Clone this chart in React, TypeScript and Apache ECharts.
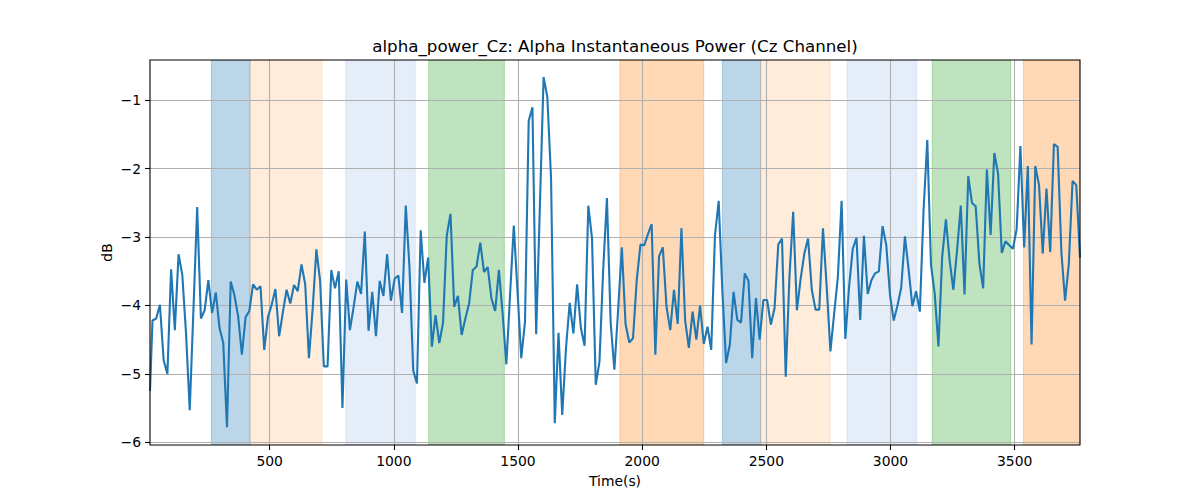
import React, { useEffect, useRef } from "react";
import * as echarts from "echarts";

// Alpha power (dB) per time window; first entry is the left-edge point
const values: number[] = [
  -5.25,
  -4.22, -4.19, -3.99, -4.80, -5.00, -3.47, -4.36, -3.25, -3.55, -4.40,
  -5.53, -4.05, -2.56, -4.19, -4.07, -3.63, -4.11, -3.81, -4.33, -4.55,
  -5.78, -3.65, -3.85, -4.16, -4.72, -4.17, -4.08, -3.69, -3.77, -3.72,
  -4.65, -4.17, -3.99, -3.76, -4.45, -4.10, -3.77, -3.97, -3.70, -3.79,
  -3.40, -3.69, -4.77, -4.05, -3.18, -3.64, -4.89, -4.89, -3.48, -3.75,
  -3.50, -5.50, -3.62, -4.36, -4.02, -3.65, -3.83, -2.92, -4.37, -3.80,
  -4.45, -3.64, -3.86, -3.25, -3.93, -3.61, -3.56, -4.11, -2.54, -3.45,
  -4.95, -5.14, -2.90, -3.67, -3.30, -4.60, -4.14, -4.55, -4.25, -2.98,
  -2.66, -4.02, -3.86, -4.43, -4.19, -3.97, -3.48, -3.43, -3.08, -3.51,
  -3.44, -3.90, -4.08, -3.48, -4.12, -4.86, -3.84, -2.83, -3.80, -4.77,
  -4.24, -1.30, -1.10, -4.42, -2.55, -0.66, -0.95, -2.14, -5.72, -4.40,
  -5.60, -4.63, -3.96, -4.41, -3.69, -4.33, -4.59, -2.54, -3.02, -5.16,
  -4.82, -3.47, -2.43, -4.25, -4.94, -4.07, -3.15, -4.27, -4.54, -4.48,
  -3.63, -3.11, -3.12, -2.96, -2.81, -4.72, -3.28, -3.15, -4.02, -4.36,
  -3.77, -4.27, -2.87, -4.22, -4.62, -4.09, -4.50, -4.00, -4.56, -4.31,
  -4.65, -2.98, -2.47, -3.80, -4.84, -4.57, -3.80, -4.21, -4.25, -3.53,
  -3.64, -4.77, -3.89, -4.50, -3.92, -3.92, -4.28, -4.04, -3.11, -3.02,
  -5.04, -3.58, -2.63, -4.07, -3.61, -3.24, -3.02, -3.77, -4.06, -4.06,
  -2.87, -3.73, -4.67, -4.12, -3.58, -2.47, -4.49, -3.73, -3.17, -3.01,
  -4.21, -2.98, -3.83, -3.63, -3.53, -3.50, -2.84, -3.12, -3.85, -4.22,
  -4.00, -3.74, -2.99, -3.48, -4.01, -3.79, -4.09, -2.61, -1.58, -3.41,
  -3.83, -4.60, -3.29, -2.74, -3.34, -3.77, -3.19, -2.54, -3.84, -2.11,
  -2.50, -2.55, -3.39, -3.75, -2.01, -2.97, -1.77, -2.07, -3.23, -3.06,
  -3.12, -3.17, -2.88, -1.67, -3.15, -1.96, -4.57, -1.96, -2.24, -3.24,
  -2.29, -3.22, -1.64, -1.68, -3.22, -3.93, -3.39, -2.18, -2.24, -3.30,
];

const FIRST_TIME = 18;
const T0 = 28;
const STEP = 15;
const times: number[] = values.map((_, i) => (i === 0 ? FIRST_TIME : T0 + STEP * (i - 1)));

const X_MIN = 18;
const X_MAX = 3763;
const Y_MIN = -6.04;
const Y_MAX = -0.41;

const xTicks = [500, 1000, 1500, 2000, 2500, 3000, 3500];
const yTicks = [-6, -5, -4, -3, -2, -1];

// Shaded task segments
const bandStarts = [265, 421, 806, 1140, 1910, 2323, 2477, 2825, 3168, 3535];
const bandEnds = [421, 711, 1086, 1445, 2248, 2477, 2756, 3106, 3484, 3763];
const bandKinds = [0, 1, 2, 3, 4, 0, 1, 2, 3, 4];

const bandPalette = [
  "rgba(31,119,180,0.3)",
  "rgba(255,127,14,0.15)",
  "rgba(70,130,210,0.14)",
  "rgba(44,160,44,0.3)",
  "rgba(255,127,14,0.3)",
];

const TITLE = "alpha_power_Cz: Alpha Instantaneous Power (Cz Channel)";
const FONT = "DejaVu Sans";

const fmtNum = (v: number) => {
  const r = Math.round(v);
  const s = String(Math.abs(r));
  return r < 0 ? "\u2212" + s : s;
};

export default function App() {
  const ref = useRef<HTMLDivElement>(null);

  useEffect(() => {
    if (!ref.current) return;
    const chart = echarts.init(ref.current, undefined, { renderer: "svg" });
    const gl = 150, gt = 60, gw = 930, gh = 385;

    const option: any = {
      animation: false,
      backgroundColor: "#ffffff",
      textStyle: { fontFamily: FONT },
      grid: { left: gl, top: gt, width: gw, height: gh, containLabel: false },
      xAxis: {
        type: "value",
        min: X_MIN,
        max: X_MAX,
        splitNumber: 7,
        z: 1,
        axisLine: { show: false },
        axisTick: {
          show: true,
          length: 5,
          inside: false,
          customValues: xTicks,
          lineStyle: { color: "#000", width: 1.1 },
        },
        axisLabel: {
          show: true,
          margin: 9,
          customValues: xTicks,
          color: "#000",
          fontSize: 13.9,
          fontFamily: FONT,
          formatter: (v: number) => (xTicks.includes(Math.round(v)) && Math.abs(v - Math.round(v)) < 1e-6 ? fmtNum(v) : ""),
        },
        splitLine: { show: true, lineStyle: { color: "#b0b0b0", width: 1.1 } },
      },
      yAxis: {
        type: "value",
        min: Y_MIN,
        max: Y_MAX,
        splitNumber: 5,
        z: 1,
        axisLine: { show: false },
        axisTick: {
          show: true,
          length: 5,
          inside: false,
          customValues: yTicks,
          lineStyle: { color: "#000", width: 1.1 },
        },
        axisLabel: {
          show: true,
          margin: 9,
          customValues: yTicks,
          color: "#000",
          fontSize: 13.9,
          fontFamily: FONT,
          formatter: (v: number) => (Math.abs(v - Math.round(v)) < 1e-6 ? fmtNum(v) : ""),
        },
        splitLine: { show: true, lineStyle: { color: "#b0b0b0", width: 1.1 } },
      },
      series: [
        {
          type: "custom",
          z: 0,
          silent: true,
          clip: true,
          encode: { x: [0, 1], y: 2 },
          data: bandStarts.map((s, i) => [s, bandEnds[i], bandKinds[i]]),
          renderItem: (params: any, api: any) => {
            const x0 = api.coord([api.value(0), -3])[0];
            const x1 = api.coord([api.value(1), -3])[0];
            const cs = params.coordSys;
            const col = bandPalette[api.value(2)];
            return {
              type: "rect",
              shape: { x: x0, y: cs.y, width: x1 - x0, height: cs.height },
              style: { fill: col, stroke: col, lineWidth: 1 },
            };
          },
        },
        {
          type: "line",
          z: 2,
          silent: true,
          showSymbol: false,
          clip: true,
          data: times.map((t, i) => [t, values[i]]),
          lineStyle: { color: "#1f77b4", width: 2.1 },
          itemStyle: { color: "#1f77b4" },
        },
      ],
      graphic: [
        {
          type: "rect",
          z: 100,
          silent: true,
          shape: { x: gl, y: gt, width: gw, height: gh },
          style: { fill: "none", stroke: "#000", lineWidth: 1.1 },
        },
        {
          type: "text",
          z: 100,
          x: gl + gw / 2,
          y: 46,
          style: {
            text: TITLE,
            fill: "#000",
            fontSize: 16.7,
            fontFamily: FONT,
            align: "center",
            verticalAlign: "middle",
          },
        },
        {
          type: "text",
          z: 100,
          x: gl + gw / 2,
          y: 481,
          style: {
            text: "Time(s)",
            fill: "#000",
            fontSize: 13.9,
            fontFamily: FONT,
            align: "center",
            verticalAlign: "middle",
          },
        },
        {
          type: "text",
          z: 100,
          x: 107,
          y: gt + gh / 2,
          rotation: Math.PI / 2,
          style: {
            text: "dB",
            fill: "#000",
            fontSize: 13.9,
            fontFamily: FONT,
            align: "center",
            verticalAlign: "middle",
          },
        },
      ],
    };

    chart.setOption(option);
    return () => chart.dispose();
  }, []);

  return (
    <div
      ref={ref}
      style={{ position: "absolute", left: 0, top: 0, width: 1200, height: 500 }}
    />
  );
}
